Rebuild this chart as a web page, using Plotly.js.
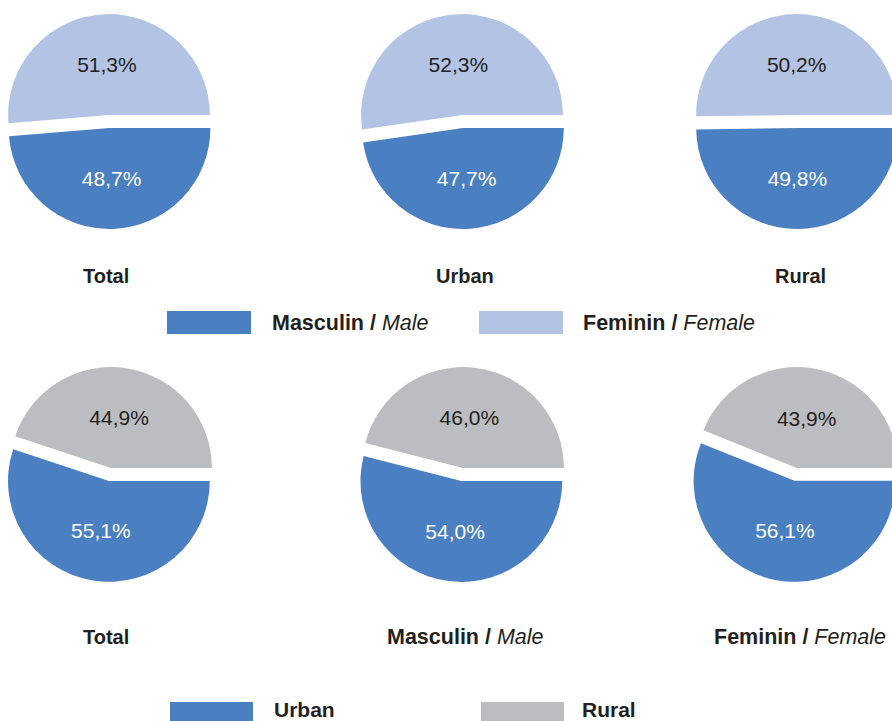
<!DOCTYPE html>
<html>
<head>
<meta charset="utf-8">
<script src="https://cdn.plot.ly/plotly-3.0.1.min.js"></script>
<style>
  html, body { margin: 0; padding: 0; overflow: hidden; background: #fff; width: 892px; height: 721px; }
  #chart { position: absolute; left: -20px; top: 0; width: 940px; height: 721px; }
</style>
</head>
<body>
<div id="chart"></div>
<script>
// ---- Data ----
const genderLabels = ['Masculin / Male', 'Feminin / Female'];
const areaLabels = ['Urban', 'Rural'];

const genderTotal = [48.7, 51.3];
const genderUrban = [47.7, 52.3];
const genderRural = [49.8, 50.2];

const areaTotal = [55.1, 44.9];
const areaMale = [54.0, 46.0];
const areaFemale = [56.1, 43.9];

const topTitles = ['<b>Total</b>', '<b>Urban</b>', '<b>Rural</b>'];
const bottomTitles = ['<b>Total</b>', '<b>Masculin /</b> <i>Male</i>', '<b>Feminin /</b> <i>Female</i>'];

const topLegend = ['<b>Masculin /</b> <i>Male</i>', '<b>Feminin /</b> <i>Female</i>'];
const bottomLegend = ['<b>Urban</b>', '<b>Rural</b>'];

// ---- Styles / layout helpers ----
const BLUE = '#4a7fc1';
const LIGHT = '#b3c3e3';
const GREY = '#bcbdc0';
const DARK = '#231f20';
const FONT = 'Liberation Sans, Arial, Helvetica, sans-serif';

const W = 940, H = 721, OFF = 20;   // paper is shifted 20px left of the viewport
const BOX = 228;                    // pie box size (px)
const PULL = 0.13;

function px2x(sx) { return (sx + OFF) / W; }
function px2y(sy) { return 1 - sy / H; }

function pieTrace(values, labels, colors, cx, cy) {
  return {
    type: 'pie',
    values: values,
    labels: labels,
    sort: false,
    direction: 'clockwise',
    rotation: 90,
    pull: [PULL, 0],
    marker: { colors: colors, line: { width: 0 } },
    textinfo: 'text',
    texttemplate: '%{value:.1f}%',
    textposition: 'inside',
    insidetextorientation: 'horizontal',
    insidetextfont: { family: FONT, size: 21, color: ['#ffffff', DARK] },
    hoverinfo: 'label+value',
    showlegend: false,
    domain: {
      x: [px2x(cx - BOX / 2), px2x(cx + BOX / 2)],
      y: [px2y(cy + BOX / 2), px2y(cy - BOX / 2)]
    }
  };
}

const topCx = [109, 462, 797], topCy = 115;
const botCx = [111, 463, 797], botCy = 468;

const traces = [
  pieTrace(genderTotal, genderLabels, [BLUE, LIGHT], topCx[0], topCy),
  pieTrace(genderUrban, genderLabels, [BLUE, LIGHT], topCx[1], topCy),
  pieTrace(genderRural, genderLabels, [BLUE, LIGHT], topCx[2], topCy),
  pieTrace(areaTotal, areaLabels, [BLUE, GREY], botCx[0], botCy),
  pieTrace(areaMale, areaLabels, [BLUE, GREY], botCx[1], botCy),
  pieTrace(areaFemale, areaLabels, [BLUE, GREY], botCx[2], botCy)
];

const annotations = [];
const titleX = [106, 465, 800];
const bTitleX = [106, 465, 800];
topTitles.forEach((t, i) => annotations.push({
  text: t, xref: 'paper', yref: 'paper', x: px2x(titleX[i]), y: px2y(276),
  xanchor: 'center', yanchor: 'middle', showarrow: false,
  font: { family: FONT, size: 20, color: DARK }
}));
bottomTitles.forEach((t, i) => annotations.push({
  text: t, xref: 'paper', yref: 'paper', x: px2x(bTitleX[i]), y: px2y(637),
  xanchor: 'center', yanchor: 'middle', showarrow: false,
  font: { family: FONT, size: i === 0 ? 20 : 21.5, color: DARK }
}));

// legend swatches + text
const shapes = [];
const topSw = [[167, 251, BLUE], [479, 563, LIGHT]];
const topTx = [270, 581];
topSw.forEach((s, i) => {
  shapes.push({ type: 'rect', xref: 'paper', yref: 'paper',
    x0: px2x(s[0]), x1: px2x(s[1]), y0: px2y(334), y1: px2y(311),
    fillcolor: s[2], line: { width: 0 } });
  annotations.push({ text: topLegend[i], xref: 'paper', yref: 'paper',
    x: px2x(topTx[i]), y: px2y(323), xanchor: 'left', yanchor: 'middle', showarrow: false,
    font: { family: FONT, size: 21.5, color: DARK } });
});
const botSw = [[170, 253, BLUE], [481, 564, GREY]];
const botTx = [272, 580];
botSw.forEach((s, i) => {
  shapes.push({ type: 'rect', xref: 'paper', yref: 'paper',
    x0: px2x(s[0]), x1: px2x(s[1]), y0: px2y(724), y1: px2y(702),
    fillcolor: s[2], line: { width: 0 } });
  annotations.push({ text: bottomLegend[i], xref: 'paper', yref: 'paper',
    x: px2x(botTx[i]), y: px2y(709), xanchor: 'left', yanchor: 'middle', showarrow: false,
    font: { family: FONT, size: 21, color: DARK } });
});

const layout = {
  width: W, height: H,
  margin: { l: 0, r: 0, t: 0, b: 0, pad: 0 },
  paper_bgcolor: '#ffffff',
  separators: ', ',
  showlegend: false,
  font: { family: FONT, color: DARK },
  annotations: annotations,
  shapes: shapes
};

Plotly.newPlot('chart', traces, layout, { displayModeBar: false, staticPlot: true });
</script>
</body>
</html>
